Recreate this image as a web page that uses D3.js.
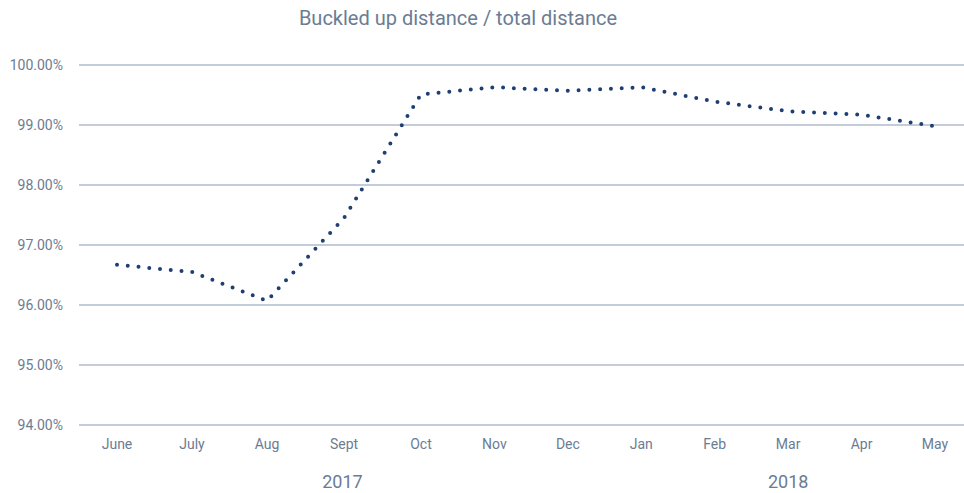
<!DOCTYPE html>
<html>
<head>
<meta charset="utf-8">
<script src="https://cdn.jsdelivr.net/npm/d3@7"></script>
<style>
  body { margin: 0; background: #fff; }
  text { font-family: Roboto, sans-serif; fill: #6b7c93; }
  .grid line { stroke: #aebdcd; stroke-width: 1.5; }
  .line { fill: none; stroke: #1e3f74; stroke-width: 4; stroke-linecap: round; stroke-dasharray: 0 10.8; }
</style>
</head>
<body>
<div class="chart"></div>
<script>
var months = ["June", "July", "Aug", "Sept", "Oct", "Nov", "Dec", "Jan", "Feb", "Mar", "Apr", "May"];
var values = [96.67, 96.55, 96.07, 97.45, 99.51, 99.63, 99.57, 99.63, 99.39, 99.23, 99.17, 98.98];
var years = [
  {label: "2017", first: "June", last: "Dec"},
  {label: "2018", first: "Jan", last: "May"}
];
var yTicks = [94, 95, 96, 97, 98, 99, 100];
var title = "Buckled up distance / total distance";

var width = 964, height = 493;

// month positions are slightly wider in the summer part of the original
var xi = d3.scaleLinear()
  .domain([0, 2, 4, 11])
  .range([117, 267, 421, 935]);
function x(m) { return xi(months.indexOf(m)); }

var y = d3.scaleLinear()
  .domain([94, 100])
  .range([425, 65]);

var svg = d3.select(".chart").append("svg")
  .attr("width", width)
  .attr("height", height);

svg.append("text")
  .attr("x", 458)
  .attr("y", 25)
  .attr("text-anchor", "middle")
  .style("font-size", "20px")
  .text(title);

// horizontal grid with the percent labels
var grid = svg.append("g").attr("class", "grid");
grid.selectAll("line")
  .data(yTicks)
  .enter().append("line")
  .attr("x1", 79)
  .attr("x2", width)
  .attr("y1", function (d) { return y(d); })
  .attr("y2", function (d) { return y(d); });

svg.append("g").selectAll("text")
  .data(yTicks)
  .enter().append("text")
  .attr("x", 63)
  .attr("y", function (d) { return y(d); })
  .attr("dy", "0.35em")
  .attr("text-anchor", "end")
  .style("font-size", "14px")
  .text(function (d) { return d.toFixed(2) + "%"; });

svg.append("g").selectAll("text")
  .data(months)
  .enter().append("text")
  .attr("x", function (d) { return x(d); })
  .attr("y", 449)
  .attr("text-anchor", "middle")
  .style("font-size", "14px")
  .text(function (d) { return d; });

svg.append("g").selectAll("text")
  .data(years)
  .enter().append("text")
  .attr("x", function (d) { return (x(d.first) + x(d.last)) / 2; })
  .attr("y", 488)
  .attr("text-anchor", "middle")
  .style("font-size", "18px")
  .text(function (d) { return d.label; });

var line = d3.line()
  .x(function (d, i) { return xi(i); })
  .y(function (d) { return y(d); });

svg.append("path")
  .datum(values)
  .attr("class", "line")
  .attr("d", line);
</script>
</body>
</html>
